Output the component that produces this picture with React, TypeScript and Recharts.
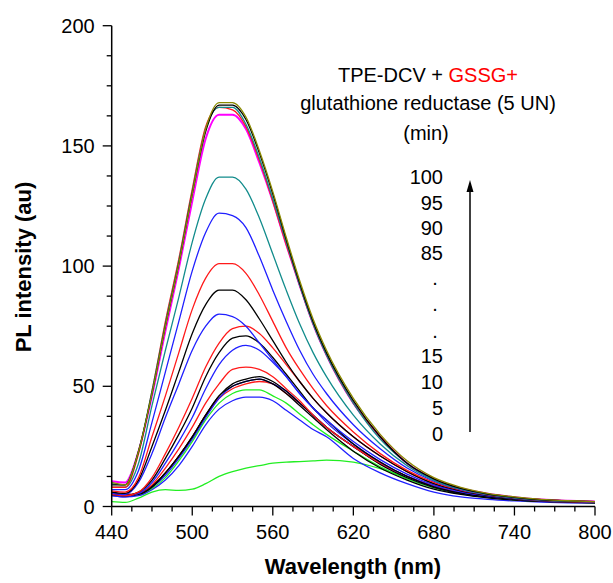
import { LineChart, Line, XAxis, YAxis } from 'recharts';

// wavelength (nm)
const wavelength = [440, 450, 460, 470, 480, 490, 500, 510, 520, 530, 540, 550, 560, 570, 580, 590, 600, 620, 640, 660, 680, 700, 720, 740, 760, 780, 800];

// PL intensity (au) per reaction time (min)
const t0 = [2, 1.7, 3.5, 6, 7, 6.7, 7.2, 9.5, 12.5, 14.5, 16, 17, 18, 18.5, 18.7, 19, 19.3, 18.5, 15.8, 12, 8, 5.5, 3.8, 2.9, 2.3, 1.9, 1.8];
const t5 = [4.5, 4, 4.5, 7, 11, 17, 25, 34, 40.5, 44, 45.5, 45.5, 44, 40, 36, 32, 29, 20, 14, 9.5, 6, 4, 3, 2.3, 1.8, 1.5, 1.4];
const t10 = [5, 4.5, 5, 7.5, 12, 19, 27, 36, 43, 47, 48.5, 48.5, 46, 43, 38.5, 34, 30, 23, 16.5, 11.5, 7.8, 5.3, 3.8, 2.8, 2.2, 1.8, 1.6];
const t15 = [6, 5, 5.5, 8.5, 14, 21, 29, 38, 45, 49, 51, 52, 51, 47, 43, 38, 33, 25, 18, 12.5, 8.3, 5.6, 4, 3, 2.3, 1.9, 1.7];
const t20 = [4.5, 4, 5, 8, 13, 20, 28, 37, 45, 50, 52, 53, 51, 48, 43, 38, 33, 25, 18, 12.5, 8.5, 5.8, 4.2, 3.1, 2.4, 1.9, 1.7];
const t25 = [5.5, 5, 5.5, 8.5, 14, 21, 29, 38, 46, 50, 52, 53, 51, 47, 42, 37, 32, 23, 16, 11, 7.2, 5, 3.6, 2.7, 2.1, 1.7, 1.5];
const t30 = [5, 4.5, 5, 8, 14, 21, 29, 38, 46, 51, 53, 54, 52, 48, 43, 38, 33, 25, 17.5, 12, 8, 5.4, 3.9, 2.9, 2.2, 1.8, 1.6];
const t35 = [5, 4.5, 5.5, 9, 16, 24, 33, 43, 51, 57, 58, 57, 54, 49, 44, 38, 33, 25, 18, 12.5, 8.5, 5.8, 4.2, 3.1, 2.4, 1.9, 1.7];
const t40 = [5, 4.5, 5.5, 10, 18, 27, 37, 49, 59, 65, 67, 65, 60, 54, 47, 41, 35, 26, 18.5, 12.5, 8.3, 5.7, 4.1, 3.1, 2.4, 1.9, 1.7];
const t45 = [5, 4.5, 6, 11, 20, 30, 41, 54, 64, 70, 71, 68, 62, 55, 48, 41, 36, 26, 18.5, 12.5, 8.2, 5.6, 4, 3, 2.3, 1.9, 1.7];
const t50 = [5, 4.5, 6, 12, 22, 33, 45, 58, 68, 74, 75, 72, 66, 59, 52, 45, 39, 29, 21, 14.5, 9.5, 6.5, 4.6, 3.4, 2.5, 2, 1.8];
const t55 = [5.5, 5, 10, 22, 37, 51, 65, 75, 80, 79, 75, 68, 61, 54, 47, 41, 36, 27, 19.5, 13.5, 9, 6.2, 4.4, 3.3, 2.4, 2, 1.8];
const t60 = [6, 5.5, 11, 25, 40, 56, 72, 84, 90, 90, 86, 78, 69, 60, 52, 45, 39, 29, 21, 14.5, 9.5, 6.5, 4.6, 3.4, 2.5, 2, 1.8];
const t65 = [6.5, 6, 12, 29, 46, 64, 82, 95, 101, 101, 97, 88, 77, 66, 57, 49, 42, 31, 22, 15, 10, 6.8, 4.8, 3.5, 2.6, 2.1, 1.9];
const t70 = [7, 7, 15, 35, 56, 77, 98, 114, 122, 121, 116, 104, 90, 77, 65, 55, 47, 34, 24, 16, 10.5, 7, 4.9, 3.6, 2.7, 2.2, 2];
const t75 = [8, 8, 18, 42, 65, 87, 110, 128, 137, 137, 132, 120, 105, 90, 76, 64, 54, 38, 26, 17, 11, 7.2, 5, 3.7, 2.8, 2.3, 2];
const t80 = [10.5, 10, 23, 46, 73, 99, 127, 153, 163, 163, 157, 143, 127, 109, 92, 76, 63, 43, 29, 18, 11.5, 7.6, 5.3, 3.9, 2.9, 2.4, 2.1];
const t85 = [8, 8, 22, 48, 77, 103, 132, 158, 166, 165, 158, 144, 127, 109, 92, 76, 63, 43, 29, 18, 11.5, 7.5, 5.2, 3.8, 2.8, 2.3, 2];
const t90 = [9.5, 9, 23, 48, 76, 102, 131, 157, 166, 166, 159, 145, 128, 110, 92, 76, 63, 43, 28, 18, 11, 7.3, 5, 3.6, 2.7, 2.2, 2];
const t95 = [9, 9, 23, 47, 75, 101, 130, 156, 167, 167, 161, 147, 130, 111, 93, 77, 64, 44, 29, 18, 11.5, 7.5, 5.2, 3.8, 2.8, 2.3, 2];
const t100 = [10, 9, 23, 47, 75, 101, 130, 157, 168, 168, 162, 148, 131, 112, 94, 78, 65, 45, 30, 19, 12, 8, 5.5, 4, 3, 2.4, 2];

// axis ticks (Origin style: 3 minor ticks between majors)
const xTicks = [440, 455, 470, 485, 500, 515, 530, 545, 560, 575, 590, 605, 620, 635, 650, 665, 680, 695, 710, 725, 740, 755, 770, 785, 800];
const xMajor = [440, 500, 560, 620, 680, 740, 800];
const yTicks = [0, 12.5, 25, 37.5, 50, 62.5, 75, 87.5, 100, 112.5, 125, 137.5, 150, 162.5, 175, 187.5, 200];
const yMajor = [0, 50, 100, 150, 200];

// legend: reaction time labels
const timeLabels = ['100', '95', '90', '85', '.', '.', '.', '15', '10', '5', '0'];
const timeLabelY = [184, 210, 235, 260, 285, 311, 338, 363, 389, 415, 441];

const GREEN = '#22ee22';
const BLUE = '#2020ff';
const RED = '#ff1a1a';
const BLACK = '#000000';
const TEAL = '#128c8c';
const MAGENTA = '#ff00ff';
const OLIVE = '#8a8a00';

const series = [
    { key: 't0', values: t0, color: GREEN },
    { key: 't5', values: t5, color: BLUE },
    { key: 't10', values: t10, color: GREEN },
    { key: 't15', values: t15, color: RED },
    { key: 't20', values: t20, color: BLUE },
    { key: 't25', values: t25, color: BLACK },
    { key: 't30', values: t30, color: BLACK },
    { key: 't35', values: t35, color: RED },
    { key: 't40', values: t40, color: BLUE },
    { key: 't45', values: t45, color: BLACK },
    { key: 't50', values: t50, color: RED },
    { key: 't55', values: t55, color: BLUE },
    { key: 't60', values: t60, color: BLACK },
    { key: 't65', values: t65, color: RED },
    { key: 't70', values: t70, color: BLUE },
    { key: 't75', values: t75, color: TEAL },
    { key: 't80', values: t80, color: MAGENTA },
    { key: 't85', values: t85, color: RED },
    { key: 't90', values: t90, color: TEAL },
    { key: 't95', values: t95, color: BLACK },
    { key: 't100', values: t100, color: OLIVE },
];

const data = wavelength.map((nm, i) => {
    const row: Record<string, number> = { nm };
    series.forEach((s) => { row[s.key] = s.values[i]; });
    return row;
});

const FONT = '"Liberation Sans", Arial, sans-serif';

function BottomTick({ x, y, payload }: any) {
    const major = xMajor.includes(payload.value);
    return (
        <g>
            <line x1={x} x2={x} y1={y} y2={y + (major ? 9 : 5)} stroke="#000" strokeWidth={1.3} />
            {major && (
                <text x={x} y={y + 32} textAnchor="middle" fontSize={20} fontFamily={FONT} fill="#000">
                    {payload.value}
                </text>
            )}
        </g>
    );
}

function TopTick({ x, y }: any) {
    return <line x1={x} x2={x} y1={y} y2={y + 3} stroke="#000" strokeWidth={1.2} />;
}

function LeftTick({ x, y, payload }: any) {
    const major = yMajor.includes(payload.value);
    return (
        <g>
            <line x1={x - (major ? 9 : 5)} x2={x} y1={y} y2={y} stroke="#000" strokeWidth={1.3} />
            {major && (
                <text x={x - 17} y={y + 7} textAnchor="end" fontSize={20} fontFamily={FONT} fill="#000">
                    {payload.value}
                </text>
            )}
        </g>
    );
}

function RightTick({ x, y }: any) {
    return <line x1={x - 3} x2={x} y1={y} y2={y} stroke="#000" strokeWidth={1.2} />;
}

export default function App() {
    return (
        <div style={{ position: 'absolute', left: 0, top: 0, width: 613, height: 583, background: '#fff' }}>
            <LineChart width={613} height={583} data={data} margin={{ top: 25.7, right: 18, bottom: 16.5, left: 11.7 }}>
                <XAxis
                    dataKey="nm"
                    type="number"
                    domain={[440, 800]}
                    ticks={xTicks}
                    interval={0}
                    allowDataOverflow
                    height={60}
                    tickSize={0}
                    tickMargin={0}
                    tickLine={false}
                    axisLine={{ stroke: '#000', strokeWidth: 1.5 }}
                    tick={<BottomTick />}
                />
                <XAxis
                    xAxisId="top"
                    orientation="top"
                    dataKey="nm"
                    type="number"
                    domain={[440, 800]}
                    ticks={xTicks}
                    interval={0}
                    allowDataOverflow
                    height={0}
                    tickSize={0}
                    tickMargin={0}
                    tickLine={false}
                    axisLine={{ stroke: '#000', strokeWidth: 1.5 }}
                    tick={<TopTick />}
                />
                <YAxis
                    type="number"
                    domain={[0, 200]}
                    ticks={yTicks}
                    interval={0}
                    allowDataOverflow
                    width={100}
                    tickSize={0}
                    tickMargin={0}
                    tickLine={false}
                    axisLine={{ stroke: '#000', strokeWidth: 1.5 }}
                    tick={<LeftTick />}
                />
                <YAxis
                    yAxisId="right"
                    orientation="right"
                    type="number"
                    domain={[0, 200]}
                    ticks={yTicks}
                    interval={0}
                    allowDataOverflow
                    width={0}
                    tickSize={0}
                    tickMargin={0}
                    tickLine={false}
                    axisLine={{ stroke: '#000', strokeWidth: 1.5 }}
                    tick={<RightTick />}
                />
                {series.map((s) => (
                    <Line
                        key={s.key}
                        dataKey={s.key}
                        type="monotone"
                        stroke={s.color}
                        strokeWidth={s.color === MAGENTA ? 2 : 1.3}
                        dot={false}
                        activeDot={false}
                        isAnimationActive={false}
                    />
                ))}
            </LineChart>

            <svg width={613} height={583} style={{ position: 'absolute', left: 0, top: 0, pointerEvents: 'none' }} fontFamily={FONT}>
                <text x={428} y={82} textAnchor="middle" fontSize={20} fill="#000">
                    TPE-DCV + <tspan fill="#ff0000">GSSG+</tspan>
                </text>
                <text x={428} y={110} textAnchor="middle" fontSize={20} fill="#000">glutathione reductase (5 UN)</text>
                <text x={426} y={140} textAnchor="middle" fontSize={20} fill="#000">(min)</text>
                {timeLabels.map((t, i) => (
                    <text
                        key={i}
                        x={t === '.' ? 435 : 443}
                        y={timeLabelY[i]}
                        textAnchor={t === '.' ? 'middle' : 'end'}
                        fontSize={20}
                        fill="#000"
                    >
                        {t}
                    </text>
                ))}
                <line x1={470} x2={470} y1={432} y2={188} stroke="#000" strokeWidth={1.5} />
                <polygon points="470,180 466.5,192 473.5,192" fill="#000" />
                <text x={353} y={574} textAnchor="middle" fontSize={22} fontWeight="bold" fill="#000">Wavelength (nm)</text>
                <text transform="translate(31, 267) rotate(-90)" textAnchor="middle" fontSize={22} fontWeight="bold" fill="#000">
                    PL intensity (au)
                </text>
            </svg>
        </div>
    );
}
